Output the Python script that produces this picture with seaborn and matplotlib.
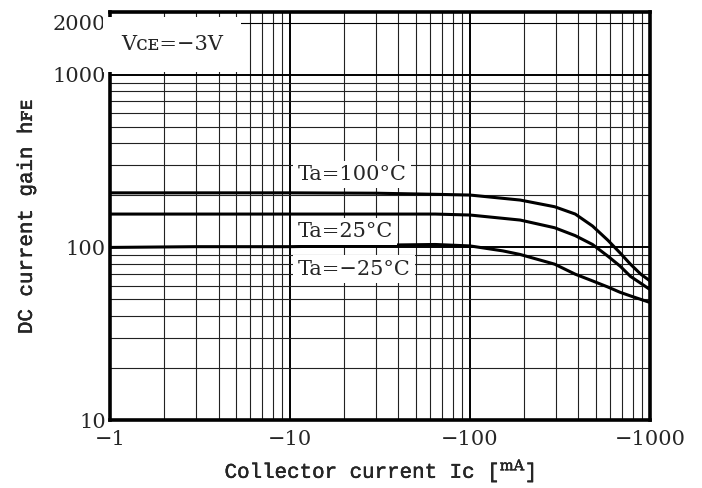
import numpy as np
import pandas as pd
import matplotlib
matplotlib.use("Agg")
import matplotlib.pyplot as plt
import matplotlib.patheffects as pe
import seaborn as sns
from matplotlib.ticker import LogLocator, NullFormatter, FixedLocator, FixedFormatter

# Ic [mA] (plotted as magnitude) vs DC current gain hFE
ic_100 = [1, 3, 10, 30, 64, 100, 190, 295, 384, 479, 583, 681, 778, 888, 1000]
hfe_100 = [207, 207, 207, 206, 203, 201, 188, 172, 156, 133, 110, 93, 80, 70, 64]

ic_25 = [1, 3, 10, 30, 64, 100, 190, 295, 384, 479, 583, 681, 778, 888, 1000]
hfe_25 = [156, 156, 156, 156, 156, 154, 144, 130, 117, 104, 89, 78, 68, 62, 57]

ic_m25 = [1, 3, 10, 30, 64, 100, 152, 190, 295, 384, 479, 583, 681, 778, 1000]
hfe_m25 = [100, 101, 101, 103, 104, 102, 95.5, 91, 80, 70, 64, 59, 55, 52.4, 48]

x_ticks = [1, 10, 100, 1000]
x_labels = ["\u22121", "\u221210", "\u2212100", "\u22121000"]
y_ticks = [10, 100, 1000, 2000]
y_labels = ["10", "100", "1000", "2000"]

curve_labels = ["Ta=100°C", "Ta=25°C", "Ta=\u221225°C"]

df = pd.concat([
    pd.DataFrame({"ic": ic_100, "hfe": hfe_100, "curve": curve_labels[0]}),
    pd.DataFrame({"ic": ic_25, "hfe": hfe_25, "curve": curve_labels[1]}),
    pd.DataFrame({"ic": ic_m25, "hfe": hfe_m25, "curve": curve_labels[2]}),
])

sns.set_style("white")
plt.rcParams["font.family"] = ["DejaVu Serif", "DejaVu Sans"]
plt.rcParams["mathtext.fontset"] = "dejavuserif"
mono = ["Liberation Mono", "DejaVu Serif", "DejaVu Sans"]
thick = [pe.withStroke(linewidth=0.3, foreground="black")]

fig = plt.figure(figsize=(7.02, 4.88), dpi=100)
ax = fig.add_axes([0.157, 0.139, 0.769, 0.836])

ax.set_xscale("log")
ax.set_yscale("log")
ax.set_xlim(1, 1000)
ax.set_ylim(10, 2300)

ax.xaxis.set_major_locator(FixedLocator(x_ticks))
ax.xaxis.set_major_formatter(FixedFormatter(x_labels))
ax.yaxis.set_major_locator(FixedLocator(y_ticks))
ax.yaxis.set_major_formatter(FixedFormatter(y_labels))
ax.xaxis.set_minor_locator(LogLocator(base=10, subs=np.arange(2, 10)))
ax.yaxis.set_minor_locator(LogLocator(base=10, subs=np.arange(2, 10)))
ax.xaxis.set_minor_formatter(NullFormatter())
ax.yaxis.set_minor_formatter(NullFormatter())

ax.grid(which="major", color="black", lw=1.4)
ax.grid(which="minor", color="#222222", lw=0.8)
ax.get_ygridlines()[3].set_linewidth(0.8)
ax.set_axisbelow(True)

sns.lineplot(data=df, x="ic", y="hfe", hue="curve", palette=["black"] * 3,
             lw=2.2, legend=False, sort=True, estimator=None, ax=ax)

ax.tick_params(which="both", length=0, labelsize=15, pad=3)
ax.tick_params(axis="x", pad=7)
for s in ax.spines.values():
    s.set_linewidth(2.6)
    s.set_color("black")

ax.set_xlabel("Collector current Ic [$^{\\mathrm{mA}}$]", fontsize=15,
              family=mono, labelpad=6, path_effects=thick)
ax.set_ylabel("DC current gain h\ua730\u1d07", fontsize=15, family=mono,
              labelpad=12, path_effects=thick)

box = dict(facecolor="white", edgecolor="none", pad=3)
ax.text(11, 265, curve_labels[0], fontsize=15, ha="left", va="center", bbox=box)
ax.text(11, 124, curve_labels[1], fontsize=15, ha="left", va="center", bbox=box)
ax.text(11, 75, curve_labels[2], fontsize=15, ha="left", va="center", bbox=box)

ax.text(1.15, 1500, "V\u1d04\u1d07=\u22123V", fontsize=15, ha="left", va="center",
        bbox=dict(facecolor="white", edgecolor="none", pad=13))

fig.savefig("out.png", dpi=100)
